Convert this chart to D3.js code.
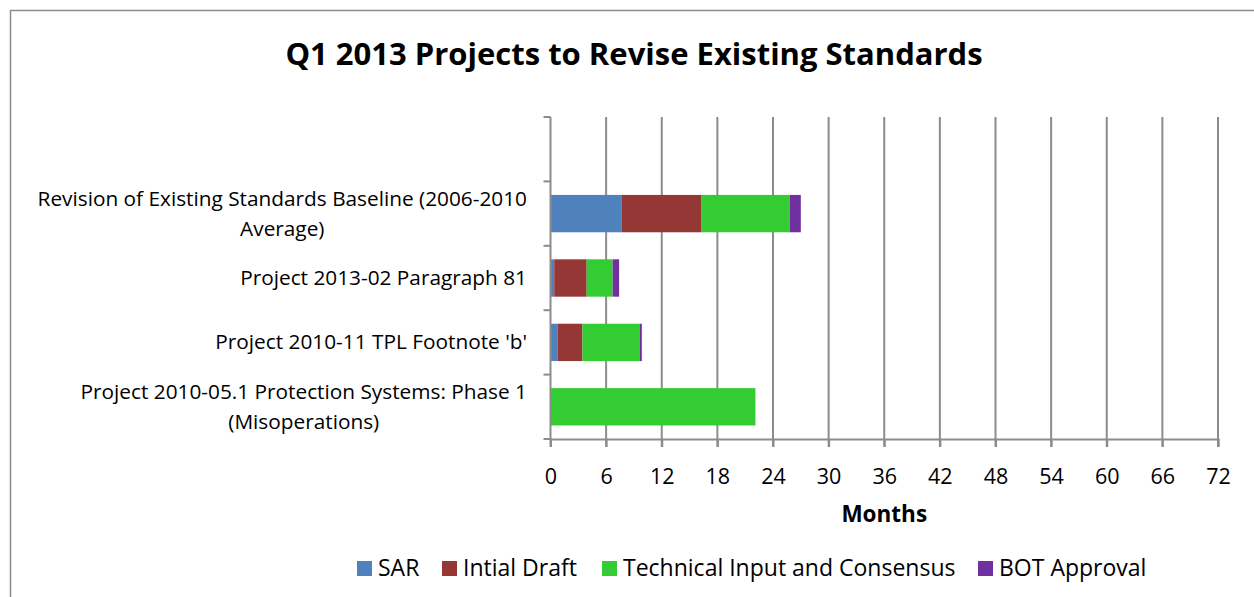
<!DOCTYPE html>
<html>
<head>
<meta charset="utf-8">
<script src="https://cdn.jsdelivr.net/npm/d3@7"></script>
<style>
  body { margin: 0; background: #fff; }
  text { font-family: "Open Sans", Lato, sans-serif; fill: #000; }
</style>
</head>
<body>
<div id="chart"></div>
<script>
// categories, top to bottom (first one is the empty slot Excel leaves)
var categories = [
  "",
  "Revision of Existing Standards Baseline (2006-2010|Average)",
  "Project 2013-02 Paragraph 81",
  "Project 2010-11 TPL Footnote 'b'",
  "Project 2010-05.1 Protection Systems: Phase 1|(Misoperations)"
];
var seriesNames = ["SAR", "Intial Draft", "Technical Input and Consensus", "BOT Approval"];
var sar       = [0, 7.7, 0.4, 0.75, 0];
var initDraft = [0, 8.6, 3.5, 2.7, 0];
var technical = [0, 9.5, 2.8, 6.2, 22.1];
var bot       = [0, 1.2, 0.7, 0.2, 0];
var xTicks = [0, 6, 12, 18, 24, 30, 36, 42, 48, 54, 60, 66, 72];
var colors = ["#4f81bd", "#953735", "#33cc33", "#7030a0"];

var W = 1254, H = 597;
var svg = d3.select("#chart").append("svg").attr("width", W).attr("height", H);

// outer frame
svg.append("rect").attr("x", 10.5).attr("y", 10.5).attr("width", W).attr("height", H)
  .attr("fill", "none").attr("stroke", "#8c8c8c").attr("stroke-width", 1.5);

svg.append("text").attr("x", 634).attr("y", 65).attr("text-anchor", "middle")
  .style("font-size", "31px").style("font-weight", "bold")
  .text("Q1 2013 Projects to Revise Existing Standards");

var plotL = 550.5, plotR = 1218, plotT = 117, plotB = 439;
var x = d3.scaleLinear().domain([0, 72]).range([plotL, plotR]);
var y = d3.scaleBand().domain(d3.range(categories.length)).range([plotT, plotB])
  .paddingInner(0.42).paddingOuter(0.21);
var yOuter = d3.scaleBand().domain(d3.range(categories.length)).range([plotT, plotB]);

// gridlines
svg.append("g").selectAll("line").data(xTicks.slice(1)).enter().append("line")
  .attr("x1", function (d) { return x(d); }).attr("x2", function (d) { return x(d); })
  .attr("y1", plotT).attr("y2", plotB + 8)
  .attr("stroke", "#8c8c8c").attr("stroke-width", 2);

// stacked bars
var rows = categories.map(function (c, i) {
  return { i: i, SAR: sar[i], "Intial Draft": initDraft[i], "Technical Input and Consensus": technical[i], "BOT Approval": bot[i] };
});
var stacked = d3.stack().keys(seriesNames)(rows);
svg.append("g").selectAll("g").data(stacked).enter().append("g")
  .attr("fill", function (d, k) { return colors[k]; })
  .selectAll("rect").data(function (d) { return d.filter(function (p) { return p[1] > p[0]; }); })
  .enter().append("rect")
  .attr("x", function (p) { return x(p[0]); })
  .attr("width", function (p) { return x(p[1]) - x(p[0]); })
  .attr("y", function (p) { return y(p.data.i); })
  .attr("height", y.bandwidth());

// x axis
var xAxis = svg.append("g").attr("transform", "translate(0," + plotB + ")")
  .call(d3.axisBottom(x).tickValues(xTicks).tickSize(8).tickPadding(22));
xAxis.select(".domain").attr("stroke", "#8c8c8c").attr("stroke-width", 2);
xAxis.selectAll(".tick line").attr("stroke", "#8c8c8c").attr("stroke-width", 2);
xAxis.selectAll("text").style("font-size", "21.5px").style("font-family", "'Open Sans', sans-serif").attr("fill", "#000");

// y axis line + ticks between categories
svg.append("line").attr("x1", plotL).attr("x2", plotL).attr("y1", plotT).attr("y2", plotB + 8)
  .attr("stroke", "#8c8c8c").attr("stroke-width", 2);
svg.append("g").selectAll("line").data(d3.range(categories.length + 1)).enter().append("line")
  .attr("x1", plotL - 7).attr("x2", plotL)
  .attr("y1", function (i) { return plotT + i * yOuter.step(); })
  .attr("y2", function (i) { return plotT + i * yOuter.step(); })
  .attr("stroke", "#8c8c8c").attr("stroke-width", 2);

// category labels (wrapped lines are centred in a right-aligned block)
var labelRight = 527, lineH = 30, labelSize = "20.8px";
categories.forEach(function (c, i) {
  if (!c) return;
  var lines = c.split("|");
  var cy = yOuter(i) + yOuter.bandwidth() / 2;
  var widths = lines.map(function (l) {
    var n = svg.append("text").style("font-size", labelSize).text(l);
    var w = n.node().getComputedTextLength(); n.remove(); return w;
  });
  var maxW = d3.max(widths);
  lines.forEach(function (l, k) {
    var ly = cy + (k - (lines.length - 1) / 2) * lineH + 7;
    svg.append("text")
      .attr("x", lines.length === 1 ? labelRight : labelRight - maxW / 2)
      .attr("y", ly)
      .attr("text-anchor", lines.length === 1 ? "end" : "middle")
      .style("font-size", labelSize).text(l);
  });
});

svg.append("text").attr("x", (plotL + plotR) / 2).attr("y", 522).attr("text-anchor", "middle")
  .style("font-size", "22.5px").style("font-weight", "bold").text("Months");

// legend
var legendX = [357, 442, 602, 978];
var lg = svg.append("g").selectAll("g").data(seriesNames).enter().append("g")
  .attr("transform", function (d, k) { return "translate(" + legendX[k] + ",561)"; });
lg.append("rect").attr("width", 15).attr("height", 15).attr("fill", function (d, k) { return colors[k]; });
lg.append("text").attr("x", 21).attr("y", 15).style("font-size", "23px").text(function (d) { return d; });
</script>
</body>
</html>
